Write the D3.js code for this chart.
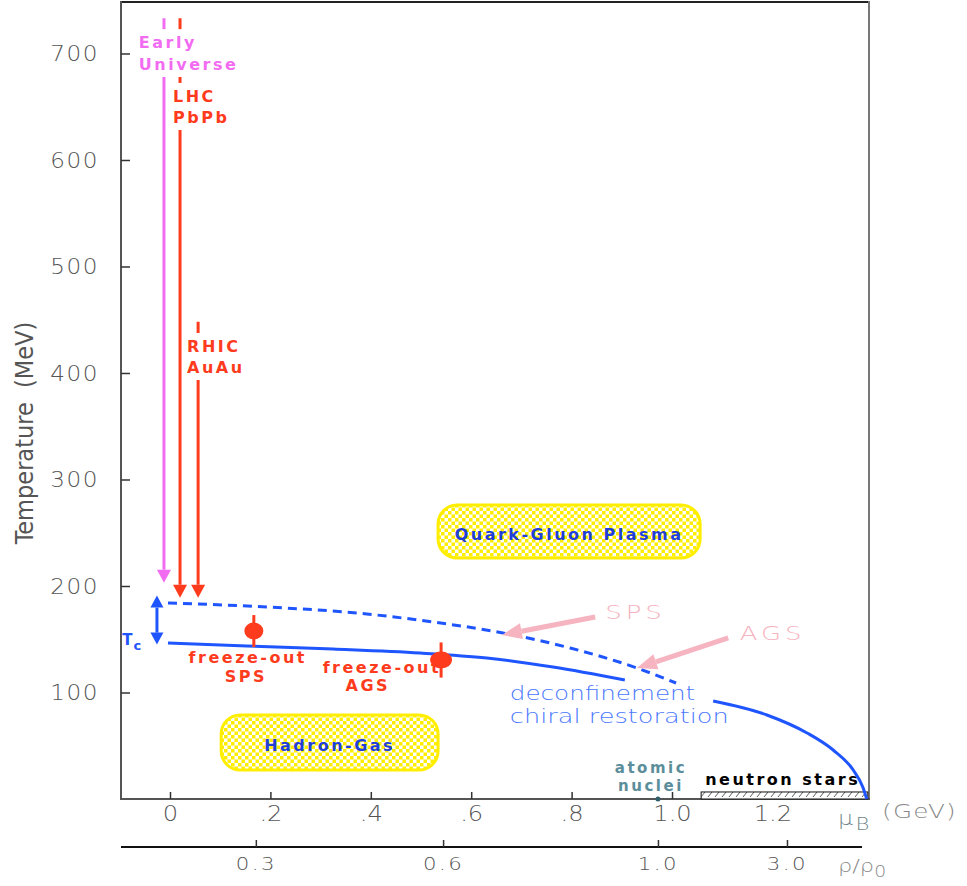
<!DOCTYPE html>
<html>
<head>
<meta charset="utf-8">
<script src="https://cdn.jsdelivr.net/npm/d3@7"></script>
<style>
  body { margin: 0; background: #fff; }
  svg { display: block; }
</style>
</head>
<body>
<div id="chart"></div>
<script>
const width = 967;
const height = 886;
const MARGIN_LEFT = 121;
const MARGIN_RIGHT = 99;
const MARGIN_TOP = 3;
const AXIS_Y = 799;
const DENS_Y = 847;

// axis ticks
const tempTicks = [100, 200, 300, 400, 500, 600, 700];
const muTicks = [0, 0.2, 0.4, 0.6, 0.8, 1.0, 1.2];
const muTickLabels = ["0", ".2", ".4", ".6", ".8", "1.0", "1.2"];
const densTicks = [0.3, 0.6, 1.0, 3.0];
const densMu = [0.171, 0.544, 0.972, 1.229];   // muB (GeV) under each density tick

// phase boundary (dashed), freeze-out line (solid), boundary towards neutron stars
const deconfMu = [-0.004, 0.193, 0.392, 0.524, 0.663, 0.797, 0.930, 1.008];
const deconfT = [184, 180.3, 173.7, 166.2, 155.9, 141.8, 123, 108.9];
const freezeLineMu = [-0.004, 0.153, 0.325, 0.498, 0.631, 0.763, 0.906];
const freezeLineT = [146.5, 143.7, 140.8, 137.1, 132.4, 123.9, 111.7];
const boundaryMu = [1.082, 1.189, 1.269, 1.321, 1.361, 1.380, 1.388];
const boundaryT = [92, 78.9, 62, 46, 27.2, 11.3, 0];

// freeze-out points
const freezeNames = ["SPS", "AGS"];
const freezeMu = [0.167, 0.540];
const freezeT = [157.7, 130.5];
const freezeErr = [15, 16.5];

// trajectories coming down from high temperature
const beamNames = [["Early", "Universe"], ["LHC", "PbPb"], ["RHIC", "AuAu"]];
const beamMu = [-0.012, 0.02, 0.056];
const beamTop = [733, 733, 448];
const beamTip = [203, 189, 189];

// Tc range
const tcMu = -0.026;
const tcT = [145, 191];

// SPS / AGS pointers onto the boundary
const pointerNames = ["SPS", "AGS"];
const pointerTailMu = [0.847, 1.112];
const pointerTailT = [170.9, 151.2];
const pointerTipMu = [0.661, 0.930];
const pointerTipT = [154, 123];

// phase regions
const regionNames = ["Quark-Gluon Plasma", "Hadron-Gas"];
const regionMu = [[0.534, 1.056], [0.102, 0.534]];
const regionT = [[226.3, 276], [27.2, 78.9]];

const nucleiMu = 0.972;
const neutronMu = [1.058, 1.39];
const neutronT = [0, 6.6];

const x = d3.scaleLinear()
    .domain([-0.0976, 1.3904])
    .range([MARGIN_LEFT, width - MARGIN_RIGHT]);
const y = d3.scaleLinear()
    .domain([0, 747.4])
    .range([AXIS_Y, MARGIN_TOP]);
const dens = d3.scaleLinear()
    .domain(densTicks)
    .range(densMu.map(d => x(d)));

const svg = d3.select('#chart')
    .append('svg')
    .attr('width', width)
    .attr('height', height);

const defs = svg.append('defs');
const checker = defs.append('pattern')
    .attr('id', 'checker')
    .attr('width', 7).attr('height', 7)
    .attr('patternUnits', 'userSpaceOnUse');
checker.append('rect').attr('width', 7).attr('height', 7).attr('fill', '#fff');
checker.append('rect').attr('width', 3.5).attr('height', 3.5).attr('fill', '#ffee00');
checker.append('rect').attr('x', 3.5).attr('y', 3.5).attr('width', 3.5).attr('height', 3.5).attr('fill', '#ffee00');

const hatch = defs.append('pattern')
    .attr('id', 'hatch')
    .attr('width', 7).attr('height', 7)
    .attr('patternUnits', 'userSpaceOnUse');
hatch.append('rect').attr('width', 7).attr('height', 7).attr('fill', '#fff');
hatch.append('path').attr('d', 'M1,6L5,1').attr('stroke', '#333').attr('stroke-width', 0.8);

// text helper, the original lettering is wide, so stretch it horizontally
function label(g, mu, t, str, o) {
    return g.append('text')
        .attr('transform', `translate(${x(mu)},${y(t)}) scale(${o.sx || 1},1)`)
        .attr('text-anchor', o.anchor || 'start')
        .attr('fill', o.color)
        .attr('font-family', o.family || 'DejaVu Sans')
        .attr('font-weight', o.weight || 'normal')
        .attr('font-size', o.size + 'px')
        .attr('letter-spacing', o.ls || 0)
        .text(str);
}

function arrowHead(g, x1, y1, x2, y2, len, half, color) {
    const a = Math.atan2(y2 - y1, x2 - x1);
    const bx = x2 - len * Math.cos(a), by = y2 - len * Math.sin(a);
    const nx = -Math.sin(a) * half, ny = Math.cos(a) * half;
    g.append('path')
        .attr('d', `M${x2},${y2}L${bx + nx},${by + ny}L${bx - nx},${by - ny}Z`)
        .attr('fill', color);
    return [bx, by];
}

// frame
svg.append('line').attr('x1', MARGIN_LEFT).attr('x2', width - MARGIN_RIGHT + 1)
    .attr('y1', MARGIN_TOP - 1).attr('y2', MARGIN_TOP - 1)
    .attr('stroke', '#222').attr('stroke-width', 2);
svg.append('line').attr('x1', width - MARGIN_RIGHT + 1).attr('x2', width - MARGIN_RIGHT + 1)
    .attr('y1', MARGIN_TOP - 2).attr('y2', AXIS_Y)
    .attr('stroke', '#777').attr('stroke-width', 2);
svg.append('line').attr('x1', MARGIN_LEFT).attr('x2', MARGIN_LEFT)
    .attr('y1', MARGIN_TOP - 2).attr('y2', AXIS_Y + 1)
    .attr('stroke', '#555').attr('stroke-width', 2);
svg.append('line').attr('x1', MARGIN_LEFT).attr('x2', width - MARGIN_RIGHT + 2)
    .attr('y1', AXIS_Y).attr('y2', AXIS_Y)
    .attr('stroke', '#555').attr('stroke-width', 2);
svg.append('line').attr('x1', MARGIN_LEFT).attr('x2', width - MARGIN_RIGHT - 6)
    .attr('y1', DENS_Y).attr('y2', DENS_Y)
    .attr('stroke', '#111').attr('stroke-width', 2);

// axes
var yAxis = svg.append('g')
    .attr('transform', `translate(${MARGIN_LEFT},0)`)
    .call(d3.axisLeft(y).tickValues(tempTicks).tickSize(-9).tickPadding(21));

var xAxis = svg.append('g')
    .attr('transform', `translate(0,${AXIS_Y})`)
    .call(d3.axisBottom(x).tickValues(muTicks).tickFormat((d, i) => muTickLabels[i]).tickSize(-7).tickPadding(7));

var densAxis = svg.append('g')
    .attr('transform', `translate(0,${DENS_Y})`)
    .call(d3.axisBottom(dens).tickValues(densTicks).tickFormat(d3.format('.1f')).tickSize(-7).tickPadding(11));

[yAxis, xAxis, densAxis].forEach(a => {
    a.select('.domain').remove();
    a.selectAll('.tick line').attr('stroke', '#333').attr('stroke-width', 1.5);
    a.selectAll('text')
        .attr('fill', '#555')
        .attr('font-family', 'DejaVu Sans')
        .attr('font-weight', 300);
});
yAxis.selectAll('text').attr('font-size', '22px').attr('letter-spacing', 1.5).attr('transform', 'scale(1.05,1)');
xAxis.selectAll('text').attr('font-size', '21px').attr('transform', 'scale(1.15,1)');
densAxis.selectAll('text').attr('font-size', '17px').attr('letter-spacing', 2).attr('transform', 'scale(1.25,1)');

// axis titles
svg.append('text')
    .attr('transform', 'translate(33,433) rotate(-90)')
    .attr('text-anchor', 'middle')
    .attr('fill', '#555')
    .attr('font-family', "'Liberation Sans Narrow', 'DejaVu Sans Condensed', sans-serif")
    .attr('font-size', '25px')
    .style('white-space', 'pre')
    .text('Temperature  (MeV)');

var muTitle = svg.append('text')
    .attr('transform', 'translate(838,825) scale(1.25,1)')
    .attr('fill', '#6f878c')
    .attr('font-family', 'DejaVu Sans')
    .attr('font-weight', 300)
    .attr('font-size', '19px');
muTitle.append('tspan').text('μ');
muTitle.append('tspan').attr('dx', 2).attr('dy', 5).attr('font-size', '17px').text('B');
svg.append('text')
    .attr('transform', 'translate(882,818) scale(1.3,1)')
    .attr('fill', '#888')
    .attr('font-family', 'DejaVu Sans')
    .attr('font-weight', 300)
    .attr('font-size', '19px')
    .attr('letter-spacing', 1)
    .text('(GeV)');
var densTitle = svg.append('text')
    .attr('transform', 'translate(838,872) scale(1.25,1)')
    .attr('fill', '#888')
    .attr('font-family', 'DejaVu Sans')
    .attr('font-weight', 300)
    .attr('font-size', '18px');
densTitle.append('tspan').text('ρ/ρ');
densTitle.append('tspan').attr('dy', 5).attr('font-size', '15px').text('0');

// phase regions
var regions = svg.append('g');
regionNames.forEach((name, i) => {
    regions.append('rect')
        .attr('x', x(regionMu[i][0]))
        .attr('y', y(regionT[i][1]))
        .attr('width', x(regionMu[i][1]) - x(regionMu[i][0]))
        .attr('height', y(regionT[i][0]) - y(regionT[i][1]))
        .attr('rx', 19)
        .attr('fill', 'url(#checker)')
        .attr('stroke', '#ffee00')
        .attr('stroke-width', 3);
    label(regions, (regionMu[i][0] + regionMu[i][1]) / 2, (regionT[i][0] + regionT[i][1]) / 2 - 2.5, name,
        {color: '#1f3fd8', weight: 'bold', size: 16, ls: 2.5, anchor: 'middle'})
        .attr('dy', '0.36em');
});

// neutron stars and nuclei
svg.append('rect')
    .attr('x', x(neutronMu[0]))
    .attr('y', y(neutronT[1]))
    .attr('width', x(neutronMu[1]) - x(neutronMu[0]))
    .attr('height', y(neutronT[0]) - y(neutronT[1]))
    .attr('fill', 'url(#hatch)')
    .attr('stroke', '#111')
    .attr('stroke-width', 1);
label(svg, neutronMu[0] + 0.008, 13.1, 'neutron stars', {color: '#000', weight: 'bold', size: 16, ls: 2.5});
svg.append('circle')
    .attr('cx', x(nucleiMu)).attr('cy', y(0)).attr('r', 2.5)
    .attr('fill', '#2f5f6a');
label(svg, nucleiMu - 0.014, 24.4, 'atomic', {color: '#5b8e9a', weight: 'bold', size: 15, ls: 2.5, anchor: 'middle'});
label(svg, nucleiMu - 0.014, 7.5, 'nuclei', {color: '#5b8e9a', weight: 'bold', size: 15, ls: 2.5, anchor: 'middle'});

// curves
var line = d3.line().x(d => x(d[0])).y(d => y(d[1])).curve(d3.curveMonotoneX);
svg.append('path')
    .datum(deconfMu.map((m, i) => [m, deconfT[i]]))
    .attr('d', line)
    .attr('fill', 'none')
    .attr('stroke', '#1f55ff')
    .attr('stroke-width', 3)
    .attr('stroke-dasharray', '9,6');
svg.append('path')
    .datum(freezeLineMu.map((m, i) => [m, freezeLineT[i]]))
    .attr('d', line)
    .attr('fill', 'none')
    .attr('stroke', '#1f55ff')
    .attr('stroke-width', 3);
svg.append('path')
    .datum(boundaryMu.map((m, i) => [m, boundaryT[i]]))
    .attr('d', line)
    .attr('fill', 'none')
    .attr('stroke', '#1f55ff')
    .attr('stroke-width', 3);

// Tc double arrow
var tc = svg.append('g');
var tcX = x(tcMu);
var tcUpper = arrowHead(tc, tcX, y(tcT[0]), tcX, y(tcT[1]), 12, 6.5, '#1f55ff');
var tcLower = arrowHead(tc, tcX, y(tcT[1]), tcX, y(tcT[0]), 12, 6.5, '#1f55ff');
tc.append('line').attr('x1', tcX).attr('x2', tcX).attr('y1', tcUpper[1]).attr('y2', tcLower[1])
    .attr('stroke', '#1f55ff').attr('stroke-width', 3);
var tcLabel = label(tc, -0.095, 144.6, 'T', {color: '#1f55ff', weight: 'bold', size: 15});
tcLabel.append('tspan').attr('dy', 5).attr('dx', 1).attr('font-size', '13px').text('c');

// trajectories
var beamColors = ['#f26cf2', '#ff3b1d', '#ff3b1d'];
var beams = svg.append('g');
beamNames.forEach((n, i) => {
    var bx = x(beamMu[i]);
    var base = arrowHead(beams, bx, y(beamTop[i]), bx, y(beamTip[i]), 13, 7, beamColors[i]);
    beams.append('line')
        .attr('x1', bx).attr('x2', bx)
        .attr('y1', y(beamTop[i])).attr('y2', base[1])
        .attr('stroke', beamColors[i]).attr('stroke-width', 3);
});
// labels cut a gap into the lines
var beamLabelMu = [-0.062, 0.006, 0.034];
var beamLabelT = [[705, 684.5], [654.5, 634.7], [419.7, 400]];
beamNames.forEach((n, i) => {
    var g = beams.append('g');
    n.forEach((s, j) => label(g, beamLabelMu[i], beamLabelT[i][j], s,
        {color: beamColors[i], weight: 'bold', size: 16, ls: 2.5}));
    var b = g.node().getBBox();
    g.insert('rect', 'text')
        .attr('x', b.x - 3).attr('y', b.y - 4)
        .attr('width', b.width + 6).attr('height', b.height + 7)
        .attr('fill', '#fff');
});

// freeze-out labels and points
var freezeLabelMu = [[0.155, 0.151], [0.422, 0.394]];
var freezeLabelT = [[127.7, 109.9], [118.3, 101.4]];
var freeze = svg.append('g');
freezeNames.forEach((n, i) => {
    label(freeze, freezeLabelMu[i][0], freezeLabelT[i][0], 'freeze-out', {color: '#ff3b1d', weight: 'bold', size: 16, ls: 2.5, anchor: 'middle'});
    label(freeze, freezeLabelMu[i][1], freezeLabelT[i][1], n, {color: '#ff3b1d', weight: 'bold', size: 16, ls: 2.5, anchor: 'middle'});
});
freeze.selectAll('line.err')
    .data(freezeNames)
    .join('line')
    .attr('class', 'err')
    .attr('x1', (d, i) => x(freezeMu[i])).attr('x2', (d, i) => x(freezeMu[i]))
    .attr('y1', (d, i) => y(freezeT[i] + freezeErr[i]))
    .attr('y2', (d, i) => y(freezeT[i] - freezeErr[i]))
    .attr('stroke', '#ff3b1d').attr('stroke-width', 3);
freeze.selectAll('ellipse')
    .data(freezeNames)
    .join('ellipse')
    .attr('cx', (d, i) => x(freezeMu[i]))
    .attr('cy', (d, i) => y(freezeT[i]))
    .attr('rx', (d, i) => i ? 11 : 9.5)
    .attr('ry', 8.5)
    .attr('fill', '#ff3b1d');

// SPS / AGS pointers
var pointers = svg.append('g');
pointerNames.forEach((n, i) => {
    var x1 = x(pointerTailMu[i]), y1 = y(pointerTailT[i]);
    var x2 = x(pointerTipMu[i]), y2 = y(pointerTipT[i]);
    var base = arrowHead(pointers, x1, y1, x2, y2, 20, 8, '#f6b3c0');
    pointers.append('line')
        .attr('x1', x1).attr('y1', y1).attr('x2', base[0]).attr('y2', base[1])
        .attr('stroke', '#f6b3c0').attr('stroke-width', 5);
});
var pointerLabelMu = [0.867, 1.135];
var pointerLabelT = [169, 149.3];
pointerNames.forEach((n, i) => {
    label(pointers, pointerLabelMu[i], pointerLabelT[i], n,
        {color: '#f6b3c0', weight: 300, size: 20, ls: 3, sx: 1.3});
});

// boundary description
label(svg, 0.677, 93, 'deconfinement', {color: '#4a78ff', weight: 300, size: 20, sx: 1.23});
label(svg, 0.677, 71.4, 'chiral restoration', {color: '#4a78ff', weight: 300, size: 20, sx: 1.28});
</script>
</body>
</html>
